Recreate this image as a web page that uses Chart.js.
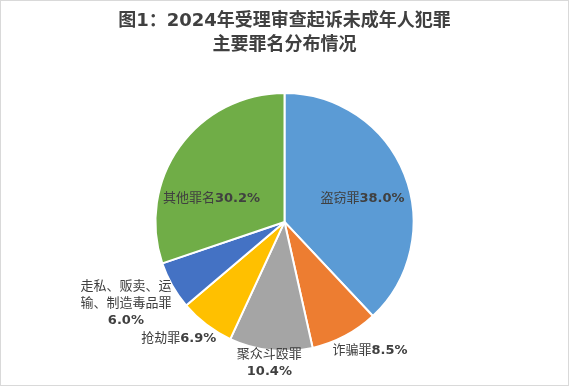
<!DOCTYPE html>
<html lang="zh-CN">
<head>
    <meta charset="UTF-8">
    <title>主要罪名分布情况</title>
    <script src="https://cdn.jsdelivr.net/npm/chart.js"></script>
    <style>
        html, body {
            margin: 0;
            padding: 0;
            background: #fff;
        }

        .wrap {
            width: 569px;
            height: 386px;
            position: relative;
        }
    </style>
</head>
<body>
    <div class="wrap"><canvas id="pieChart"></canvas></div>

    <script>
        const categories = ['盗窃罪', '诈骗罪', '聚众斗殴罪', '抢劫罪', '走私、贩卖、运输、制造毒品罪', '其他罪名'];
        const shares = [38.0, 8.5, 10.4, 6.9, 6.0, 30.2];
        const sliceColors = ['#5B9BD5', '#ED7D31', '#A5A5A5', '#FFC000', '#4472C4', '#70AD47'];
        // how each data label is broken into lines; an empty last line puts the percentage on its own line
        const labelLines = [['盗窃罪'], ['诈骗罪'], ['聚众斗殴罪', ''], ['抢劫罪'], ['走私、贩卖、运', '输、制造毒品罪', ''], ['其他罪名']];

        const FONT = '"DejaVu Sans", "Noto Sans CJK SC", sans-serif';
        const TEXT = '#404040';

        // Draws the Excel-style data labels next to / inside each slice.
        const sliceLabels = {
            id: 'sliceLabels',
            afterDatasetsDraw(chart, args, opts) {
                const ctx = chart.ctx;
                const arcs = chart.getDatasetMeta(0).data;
                ctx.save();
                ctx.fillStyle = TEXT;
                ctx.textBaseline = 'middle';
                arcs.forEach((arc, i) => {
                    const p = arc.getProps(['x', 'y', 'startAngle', 'endAngle', 'outerRadius'], true);
                    const mid = (p.startAngle + p.endAngle) / 2;
                    const place = opts.place[i];
                    const cx = p.x + Math.cos(mid) * p.outerRadius * place.r + place.dx;
                    const cy = p.y + Math.sin(mid) * p.outerRadius * place.r + place.dy;
                    const pct = shares[i].toFixed(1) + '%';
                    const lines = labelLines[i];
                    const lh = opts.lineHeight;
                    const top = cy - (lines.length - 1) * lh / 2;
                    lines.forEach((line, k) => {
                        const y = top + k * lh;
                        const last = k === lines.length - 1;
                        ctx.font = 'normal 13px ' + FONT;
                        const wName = ctx.measureText(line).width;
                        ctx.font = 'bold 13px ' + FONT;
                        const wPct = last ? ctx.measureText(pct).width : 0;
                        let x = cx - (wName + wPct) / 2;
                        ctx.textAlign = 'left';
                        ctx.font = 'normal 13px ' + FONT;
                        ctx.fillText(line, x, y);
                        if (last) {
                            ctx.font = 'bold 13px ' + FONT;
                            ctx.fillText(pct, x + wName, y);
                        }
                    });
                });
                ctx.restore();
            }
        };

        // Thin frame round the whole picture.
        const frame = {
            id: 'frame',
            afterDraw(chart) {
                const ctx = chart.ctx;
                ctx.save();
                ctx.strokeStyle = '#d9d9d9';
                ctx.lineWidth = 1;
                ctx.strokeRect(0.5, 0.5, chart.width - 1, chart.height - 1);
                ctx.restore();
            }
        };

        new Chart(document.getElementById('pieChart'), {
            type: 'pie',
            data: {
                labels: categories,
                datasets: [{
                    data: shares,
                    backgroundColor: sliceColors,
                    borderColor: '#ffffff',
                    borderWidth: 2,
                    hoverOffset: 0,
                    offset: 0
                }]
            },
            options: {
                responsive: true,
                maintainAspectRatio: false,
                animation: false,
                layout: { padding: { top: 0, bottom: 34, left: 0, right: 0 } },
                plugins: {
                    legend: { display: false },
                    tooltip: { enabled: false },
                    title: {
                        display: true,
                        text: ['图1：2024年受理审查起诉未成年人犯罪', '主要罪名分布情况'],
                        color: TEXT,
                        font: { family: FONT, size: 18, weight: 'bold', lineHeight: 1.33 },
                        padding: { top: 9, bottom: 35 }
                    },
                    sliceLabels: {
                        lineHeight: 17,
                        place: [
                            { r: 0.65, dx: 0, dy: 8 },
                            { r: 1.2, dx: 13, dy: -8 },
                            { r: 1.1, dx: 0, dy: 0 },
                            { r: 1.2, dx: -12, dy: -7 },
                            { r: 1.35, dx: -7, dy: -4 },
                            { r: 0.6, dx: -10, dy: 22 }
                        ]
                    }
                }
            },
            plugins: [sliceLabels, frame]
        });
    </script>
</body>
</html>
